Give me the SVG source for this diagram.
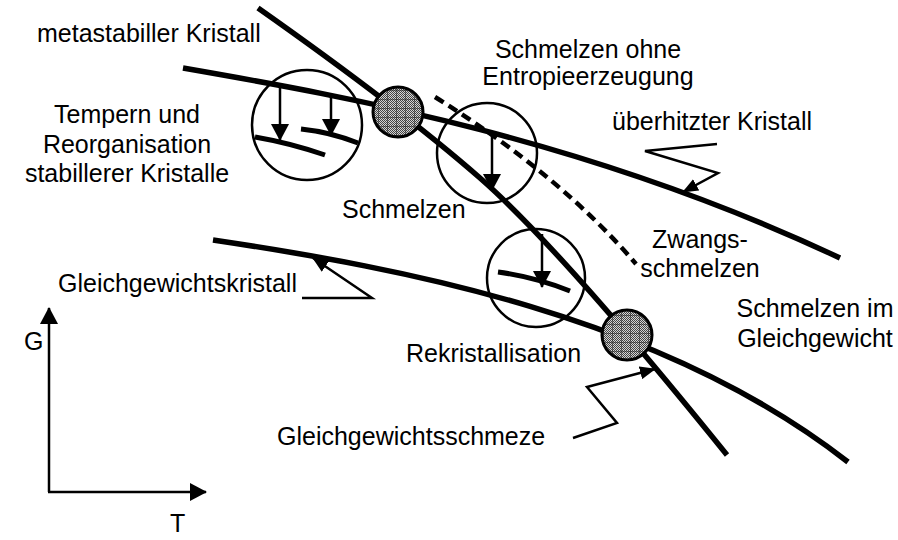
<svg xmlns="http://www.w3.org/2000/svg" width="898" height="540" viewBox="0 0 898 540">
  <style>
    text { font-family: "Liberation Sans", Arial, sans-serif; font-size: 25px; fill: #000; }
    .curve { fill: none; stroke: #000; stroke-width: 5.5; }
    .dash { fill: none; stroke: #000; stroke-width: 4.5; stroke-dasharray: 10 6; }
    .thin { fill: none; stroke: #000; stroke-width: 2.5; }
    .ring { fill: #fff; fill-opacity: 0; stroke: #000; stroke-width: 2.5; }
    .seg { fill: none; stroke: #000; stroke-width: 5; }
    .dot { stroke: #000; stroke-width: 3; }
  </style>
  <defs>
    <pattern id="dots" width="2" height="2" patternUnits="userSpaceOnUse">
      <rect width="2" height="2" fill="#d4d4d4"/>
      <rect width="1" height="1" fill="#444"/>
      <rect x="1" y="1" width="1" height="1" fill="#444"/>
    </pattern>
    <pattern id="grid" width="9" height="9" patternUnits="userSpaceOnUse">
      <path d="M0,0 H9 M0,0 V9" stroke="#222" stroke-width="1" fill="none"/>
    </pattern>
    <marker id="ah" markerUnits="userSpaceOnUse" viewBox="0 0 17 18" refX="16" refY="9" markerWidth="17" markerHeight="18" orient="auto">
      <path d="M0,0 L17,9 L0,18 Z" fill="#000"/>
    </marker>
    <marker id="ahs" markerUnits="userSpaceOnUse" viewBox="0 0 16 13" refX="15" refY="6.5" markerWidth="16" markerHeight="13" orient="auto">
      <path d="M0,0 L16,6.5 L0,13 Z" fill="#000"/>
    </marker>
  </defs>

  <g id="axes">
    <path class="thin" d="M49,492 V308" marker-end="url(#ah)"/>
    <path class="thin" d="M48,492 H206" marker-end="url(#ah)"/>
    <text x="24" y="350">G</text>
    <text x="170" y="532">T</text>
  </g>

  <g id="connectors">
    <path id="curve-metastable" class="curve" d="M183,68 C350,97 590,140 840,258"/>
    <path id="curve-melt" class="curve" d="M258,8 Q400,108 480,178 T727,455"/>
    <path id="curve-equilibrium" class="curve" d="M213,240 C400,268 660,315 848,462"/>
    <path id="curve-forced" class="dash" d="M435,97 Q560,175 636,264"/>
    <path id="ptr-gleichgewichtskristall" class="thin" d="M302,298 H372 L313,258" marker-end="url(#ahs)"/>
    <path id="ptr-ueberhitzt" class="thin" d="M717,144 L645,151 L718,173 L683,192" marker-end="url(#ahs)"/>
    <path id="ptr-schmelze" class="thin" d="M573,438 L617,423 L587,387 L655,369" marker-end="url(#ahs)"/>
  </g>

  <g id="circle-tempern">
    <circle class="ring" cx="307" cy="125" r="55"/>
    <path class="thin" d="M280,86 V140" marker-end="url(#ah)"/>
    <path class="thin" d="M331,96 V135" marker-end="url(#ah)"/>
    <path class="seg" d="M255,137 Q290,143 325,155"/>
    <path class="seg" d="M301,129 Q330,132 358,143"/>
  </g>

  <g id="circle-schmelzen">
    <circle class="ring" cx="487" cy="153" r="50"/>
    <path class="thin" d="M492,132 V190" marker-end="url(#ah)"/>
  </g>

  <g id="circle-rekristallisation">
    <circle class="ring" cx="536" cy="278" r="49"/>
    <path class="thin" d="M542,234 V287" marker-end="url(#ah)"/>
    <path class="seg" d="M498,272 Q535,277 570,291"/>
  </g>

  <g id="point-metastable">
    <circle cx="398" cy="112" r="25" fill="url(#dots)"/>
    <circle cx="398" cy="112" r="25" fill="url(#grid)"/>
    <circle class="dot" cx="398" cy="112" r="25" fill="none"/>
  </g>

  <g id="point-equilibrium">
    <circle cx="627" cy="335" r="25" fill="url(#dots)"/>
    <circle cx="627" cy="335" r="25" fill="url(#grid)"/>
    <circle class="dot" cx="627" cy="335" r="25" fill="none"/>
  </g>

  <g id="labels">
    <text x="37" y="42">metastabiller Kristall</text>
    <text x="127" y="123" text-anchor="middle">Tempern und</text>
    <text x="127" y="153" text-anchor="middle">Reorganisation</text>
    <text x="127" y="182" text-anchor="middle">stabillerer Kristalle</text>
    <text x="588" y="58" text-anchor="middle">Schmelzen ohne</text>
    <text x="588" y="85" text-anchor="middle">Entropieerzeugung</text>
    <text x="612" y="130">überhitzter Kristall</text>
    <text x="342" y="218">Schmelzen</text>
    <text x="700" y="248" text-anchor="middle">Zwangs-</text>
    <text x="700" y="277" text-anchor="middle">schmelzen</text>
    <text x="58" y="292">Gleichgewichtskristall</text>
    <text x="815" y="317" text-anchor="middle">Schmelzen im</text>
    <text x="815" y="347" text-anchor="middle">Gleichgewicht</text>
    <text x="406" y="362">Rekristallisation</text>
    <text x="277" y="445">Gleichgewichtsschmeze</text>
  </g>
</svg>
